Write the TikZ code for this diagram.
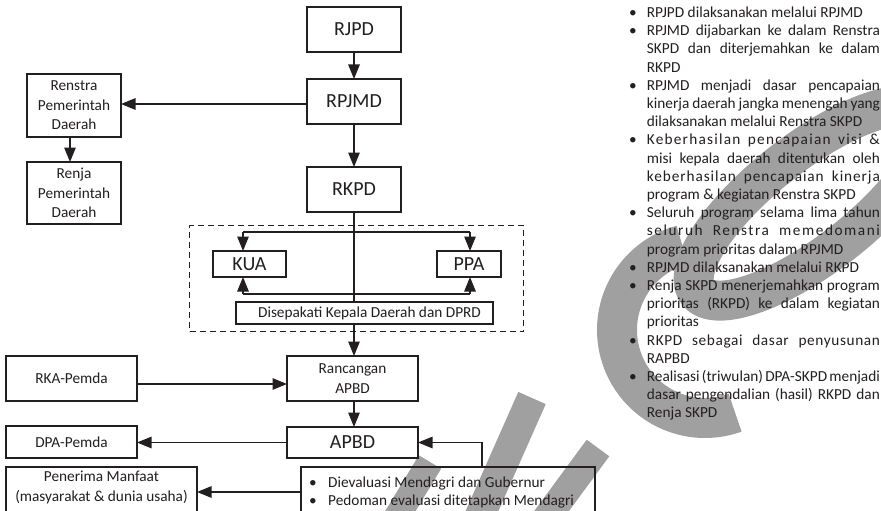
\documentclass[tikz,border=0pt]{standalone}
\usepackage{fontspec}
\setmainfont{Carlito}
\usetikzlibrary{arrows.meta,calc}
\definecolor{ink}{RGB}{35,31,32}
\definecolor{wm}{RGB}{160,160,160}
\newcommand\jl[1]{\hbox to 233pt{\spaceskip=.226em plus 1fil minus 1fil\relax #1}}
\tikzset{
  box/.style={draw=ink, line width=1.2pt, inner sep=0pt, outer sep=0pt,
    align=center, text=ink, anchor=north west},
  big/.style={font=\fontsize{20}{24}\selectfont},
  small/.style={font=\fontsize{15.3}{19.5}\selectfont},
  con/.style={draw=ink, line width=1.2pt},
  arr/.style={con, -{Triangle[length=14.5pt,width=11.5pt]}},
  dashbox/.style={draw=ink, line width=1.2pt, dash pattern=on 6pt off 4pt},
  txt/.style={text=ink, inner sep=0pt, anchor=base west, font=\fontsize{15.3}{18.2}\selectfont},
  dot/.style={text=ink, inner sep=0pt, anchor=base, font=\fontsize{15.3}{18.2}\selectfont},
  stamp/.style={draw=wm, line cap=butt, line join=round},
}
\begin{document}
\begin{tikzpicture}[x=1pt,y=-1pt]
\useasboundingbox (0,0) rectangle (881,511);
\clip (0,0) rectangle (881,511);
\fill[white] (0,0) rectangle (881,511);

% grey stamp behind everything
\draw[stamp, line width=40pt] ($(705,330)+(-105:88)$) arc[start angle=-105, end angle=-290, radius=88];
\draw[stamp, line width=40pt] plot[domain=0:360, samples=120]
  ({812 + 145*cos(\x)*0.788 + 50*sin(\x)*0.616}, {203 - 145*cos(\x)*0.616 + 50*sin(\x)*0.788}) -- cycle;
\draw[stamp, line width=30pt] (532,398) -- (478,520);
\draw[stamp, line width=28pt] (598,448) -- (545,520);
\draw[stamp, line width=26pt] (430,462) -- (395,520);

% planning chain
\node[box, big, minimum width=94pt, minimum height=45pt] (rjpd) at (307,7) {RJPD};
\node[box, big, minimum width=94pt, minimum height=45pt] (rpjmd) at (307,79) {RPJMD};
\node[box, big, minimum width=94pt, minimum height=45pt] (rkpd) at (307,167) {RKPD};
\node[box, small, minimum width=94pt, minimum height=63pt] (renstra) at (27,74) {Renstra\\Pemerintah\\Daerah};
\node[box, small, minimum width=94pt, minimum height=62pt] (renja) at (27,162) {Renja\\Pemerintah\\Daerah};

\draw[arr] (rjpd) -- (rpjmd);
\draw[arr] (rpjmd) -- (rkpd);
\coordinate (yren) at (0,104);
\draw[arr] (rpjmd.west |- yren) -- (renstra.east |- yren);
\draw[arr] ($(renstra.south)+(-4,0)$) -- ($(renja.north)+(-4,0)$);

% agreement block
\node[dashbox, minimum width=334pt, minimum height=106pt, anchor=north west, inner sep=0pt] (agree) at (189,225) {};
\node[box, big, minimum width=73pt, minimum height=26pt] (kua) at (213,251) {KUA};
\node[box, big, minimum width=64pt, minimum height=26pt] (ppa) at (437,251) {PPA};
\node[box, small, minimum width=257pt, minimum height=22pt] (dis) at (236,302) {\hspace{10pt}Disepakati Kepala Daerah dan DPRD};

\coordinate (tl) at (243,232);
\coordinate (tr) at (470,232);
\coordinate (bl) at (243,294);
\coordinate (br) at (470,294);
\draw[con] (tl) -- (tr);
\draw[con] (bl) -- (br);
\draw[arr] (tl) -- (tl |- kua.north);
\draw[arr] (tr) -- (tr |- ppa.north);
\draw[arr] (bl) -- (bl |- kua.south);
\draw[arr] (br) -- (br |- ppa.south);
\draw[con] (rkpd.south) -- (rkpd.south |- dis.north);

% budget chain
\node[box, small, minimum width=131pt, minimum height=45pt] (ranc) at (287,356) {Rancangan\\APBD};
\node[box, big, minimum width=131pt, minimum height=31pt] (apbd) at (287,427) {APBD};
\node[box, small, minimum width=131pt, minimum height=45pt] (rka) at (6,356) {RKA-Pemda};
\node[box, small, minimum width=131pt, minimum height=32pt] (dpa) at (6,426) {DPA-Pemda};
\node[box, minimum width=191pt, minimum height=60pt] (pen) at (6,467) {};
\node[small, text=ink, align=center, inner sep=0pt] (pent) at (101.5,487.5) {Penerima Manfaat\\(masyarakat \& dunia usaha)};
\node[box, minimum width=294pt, minimum height=60pt] (eval) at (301,467) {};
\node[dot] (e1b) at (313,487.5) {\textbullet};
\node[txt] (e1) at (328,487.5) {Dievaluasi Mendagri dan Gubernur};
\node[dot] (e2b) at (313,505.7) {\textbullet};
\node[txt] (e2) at (328,505.7) {Pedoman evaluasi ditetapkan Mendagri};

\draw[arr] (rkpd.south |- dis.south) -- (rkpd.south |- ranc.north);
\coordinate (yrka) at (0,384);
\draw[arr] (rka.east |- yrka) -- (ranc.west |- yrka);
\draw[arr] (rkpd.south |- ranc.south) -- (rkpd.south |- apbd.north);
\draw[arr] (apbd.west) -- (apbd.west -| dpa.east);
\coordinate (evx) at (482,0);
\draw[arr] (evx |- eval.north) |- (apbd.east);
\coordinate (ypen) at (0,492);
\draw[arr] (eval.west |- ypen) -- (pen.east |- ypen);

% notes
\node[dot] (b1) at (633,17.5) {\textbullet};
\node[txt] (r1) at (646.7,17.5) {RPJPD dilaksanakan melalui RPJMD};
\node[dot] (b2) at (633,35.7) {\textbullet};
\node[txt] (r2) at (646.7,35.7) {\jl{RPJMD dijabarkan ke dalam Renstra}};
\node[txt] (r3) at (646.7,53.9) {\jl{SKPD dan diterjemahkan ke dalam}};
\node[txt] (r4) at (646.7,72.1) {RKPD};
\node[dot] (b3) at (633,90.3) {\textbullet};
\node[txt] (r5) at (646.7,90.3) {\jl{RPJMD menjadi dasar pencapaian}};
\node[txt] (r6) at (646.7,108.5) {\jl{kinerja daerah jangka menengah yang}};
\node[txt] (r7) at (646.7,126.7) {dilaksanakan melalui Renstra SKPD};
\node[dot] (b4) at (633,144.9) {\textbullet};
\node[txt] (r8) at (646.7,144.9) {\jl{\addfontfeature{LetterSpace=8}Keberhasilan pencapaian visi \&}};
\node[txt] (r9) at (646.7,163.1) {\jl{misi kepala daerah ditentukan oleh}};
\node[txt] (r10) at (646.7,181.3) {\jl{\addfontfeature{LetterSpace=6}keberhasilan pencapaian kinerja}};
\node[txt] (r11) at (646.7,199.5) {program \& kegiatan Renstra SKPD};
\node[dot] (b5) at (633,217.7) {\textbullet};
\node[txt] (r12) at (646.7,217.7) {\jl{Seluruh program selama lima tahun}};
\node[txt] (r13) at (646.7,235.9) {\jl{\addfontfeature{LetterSpace=10}seluruh Renstra memedomani}};
\node[txt] (r14) at (646.7,254.1) {program prioritas dalam RPJMD};
\node[dot] (b6) at (633,272.3) {\textbullet};
\node[txt] (r15) at (646.7,272.3) {RPJMD dilaksanakan melalui RKPD};
\node[dot] (b7) at (633,290.5) {\textbullet};
\node[txt] (r16) at (646.7,290.5) {\jl{Renja SKPD menerjemahkan program}};
\node[txt] (r17) at (646.7,308.7) {\jl{prioritas (RKPD) ke dalam kegiatan}};
\node[txt] (r18) at (646.7,326.9) {prioritas};
\node[dot] (b8) at (633,345.1) {\textbullet};
\node[txt] (r19) at (646.7,345.1) {\jl{\addfontfeature{LetterSpace=4}RKPD sebagai dasar penyusunan}};
\node[txt] (r20) at (646.7,363.3) {RAPBD};
\node[dot] (b9) at (633,381.5) {\textbullet};
\node[txt] (r21) at (646.7,381.5) {\jl{Realisasi (triwulan) DPA-SKPD menjadi}};
\node[txt] (r22) at (646.7,399.7) {\jl{dasar pengendalian (hasil) RKPD dan}};
\node[txt] (r23) at (646.7,417.9) {Renja SKPD};
\end{tikzpicture}
\end{document}
